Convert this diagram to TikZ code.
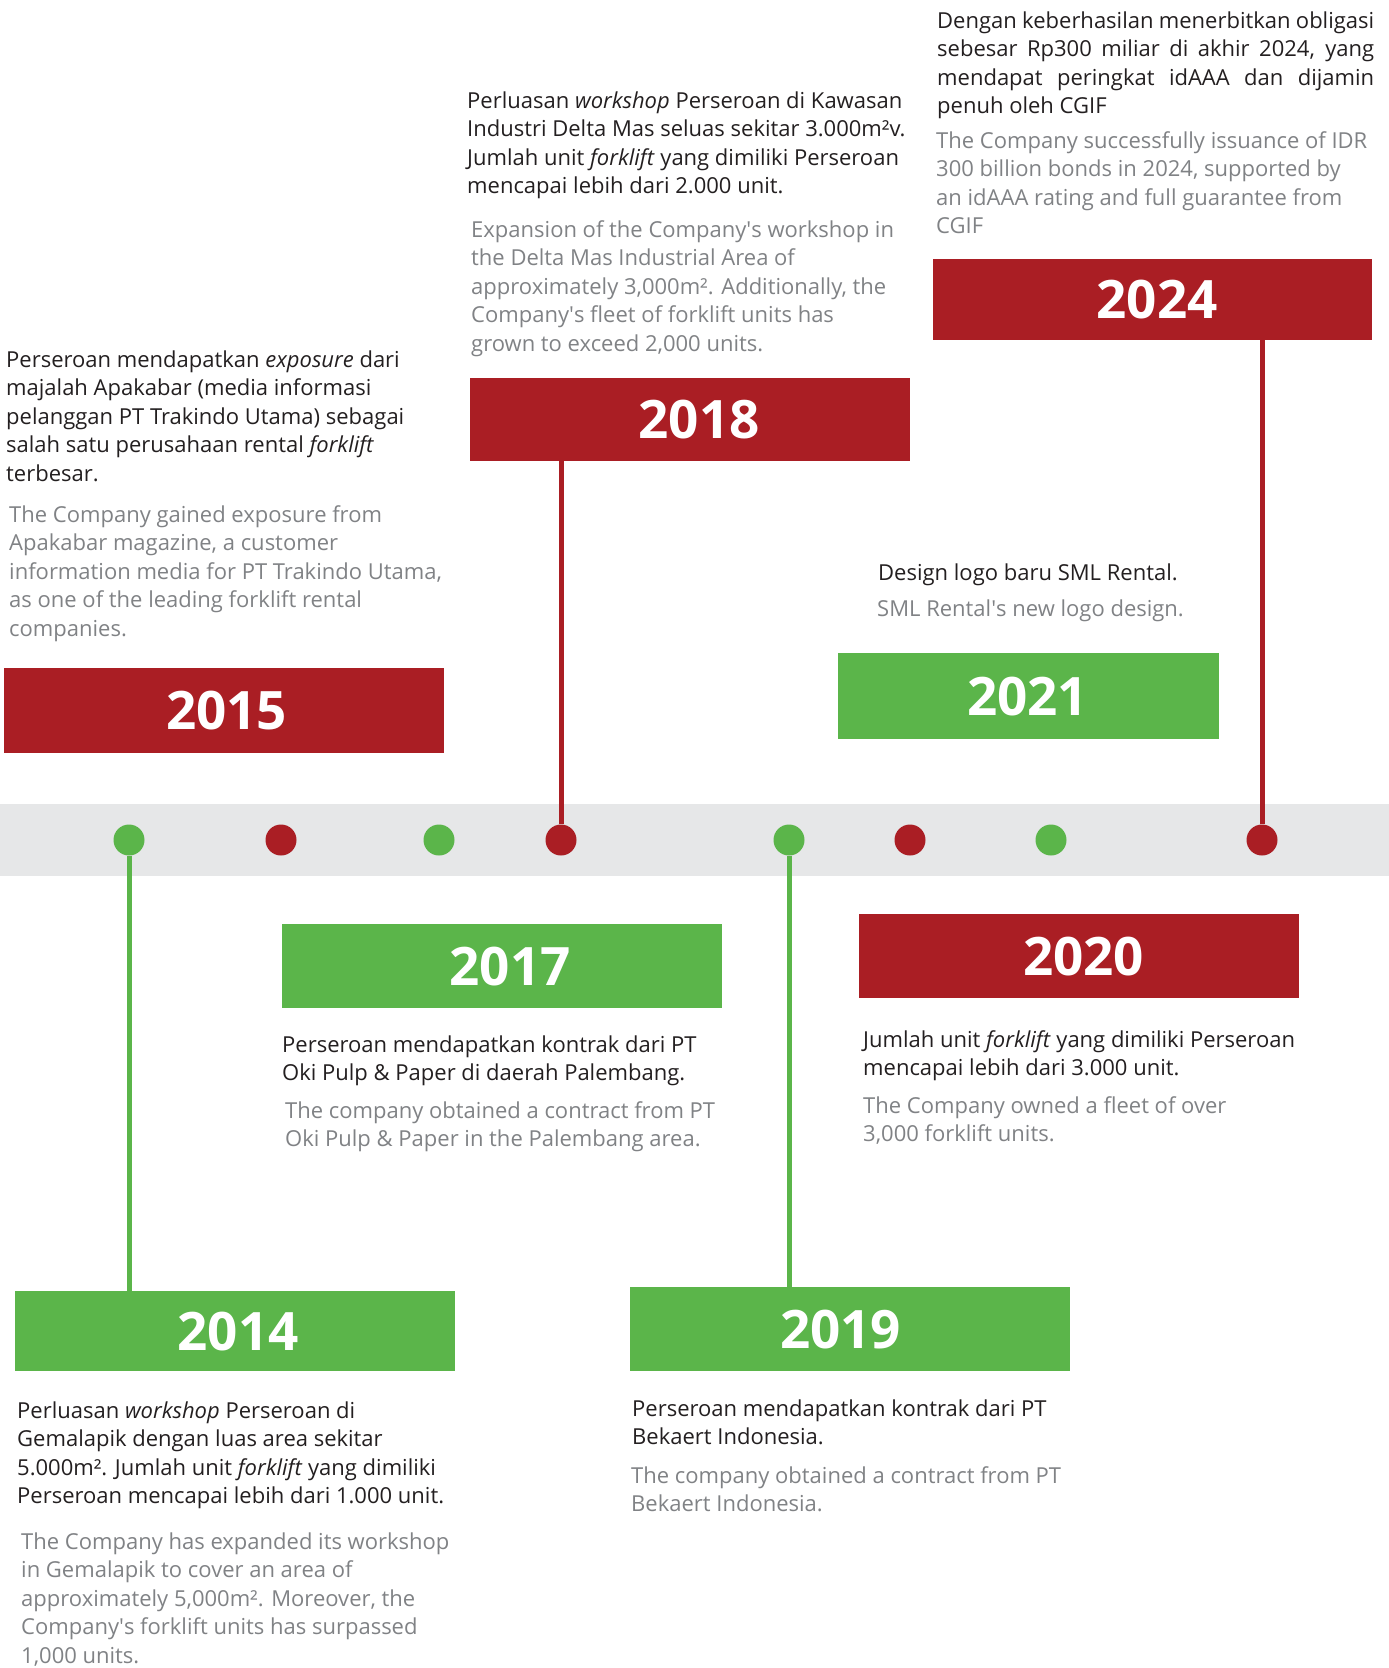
\documentclass[tikz,border=0pt]{standalone}
\usepackage{fontspec}
\setmainfont{Open Sans}
\definecolor{smlred}{RGB}{170,30,36}
\definecolor{smlgreen}{RGB}{91,181,74}
\definecolor{bandgrey}{RGB}{230,231,232}
\definecolor{darktext}{RGB}{35,31,32}
\definecolor{greytext}{RGB}{128,130,133}
\newcommand{\yrtext}[2]{\makebox[0pt][c]{\hspace*{#1}#2}}
\newcommand{\apo}{\textquotesingle}
\begin{document}
\begin{tikzpicture}[x=1pt,y=-1pt,
  yearbox/.style={rectangle, inner sep=0pt, anchor=north west, text=white,
    font=\fontsize{53}{53}\selectfont\bfseries},
  redbox/.style={yearbox, fill=smlred},
  greenbox/.style={yearbox, fill=smlgreen},
  tdot/.style={circle, inner sep=0pt, minimum size=31pt},
  reddot/.style={tdot, fill=smlred},
  greendot/.style={tdot, fill=smlgreen},
  idtext/.style={anchor=base west, inner sep=0pt, text=darktext,
    font=\fontsize{22}{28.5}\selectfont},
  entext/.style={idtext, text=greytext},
  redconn/.style={draw=smlred, line width=5pt},
  greenconn/.style={draw=smlgreen, line width=5pt}]
\useasboundingbox (0,0) rectangle (1389,1668);
\fill[bandgrey] (0,804) rectangle (1389,876);

% dots on the timeline
\node[greendot] (d14) at (129,840) {};
\node[reddot]   (d15) at (281,840) {};
\node[greendot] (d17) at (439,840) {};
\node[reddot]   (d18) at (561,840) {};
\node[greendot] (d19) at (789,840) {};
\node[reddot]   (d20) at (910,840) {};
\node[greendot] (d21) at (1051,840) {};
\node[reddot]   (d24) at (1262,840) {};

% year boxes
\node[redbox,   minimum width=440pt, minimum height=85pt] (b15) at (4,668) {\yrtext{5pt}{2015}};
\node[redbox,   minimum width=440pt, minimum height=83pt] (b18) at (470,378) {\yrtext{18pt}{2018}};
\node[redbox,   minimum width=439pt, minimum height=81pt] (b24) at (933,259) {\yrtext{9pt}{2024}};
\node[greenbox, minimum width=381pt, minimum height=86pt] (b21) at (838,653) {\yrtext{-2pt}{2021}};
\node[greenbox, minimum width=440pt, minimum height=84pt] (b17) at (282,924) {\yrtext{16pt}{2017}};
\node[redbox,   minimum width=440pt, minimum height=84pt] (b20) at (859,914) {\yrtext{9pt}{2020}};
\node[greenbox, minimum width=440pt, minimum height=80pt] (b14) at (15,1291) {\yrtext{6pt}{2014}};
\node[greenbox, minimum width=440pt, minimum height=84pt] (b19) at (630,1287) {\yrtext{-19pt}{2019}};

% connectors
\draw[greenconn] (d14) -- (d14 |- b14.north);
\draw[redconn]   (d18) -- (d18 |- b18.south);
\draw[greenconn] (d19) -- (d19 |- b19.north);
\draw[redconn]   (d24) -- (d24 |- b24.south);

% texts
\node[idtext] (t15id) at (6,367) {\parbox[t]{440pt}{\raggedright
Perseroan mendapatkan \textit{exposure} dari\\
majalah Apakabar (media informasi\\
pelanggan PT Trakindo Utama) sebagai\\
salah satu perusahaan rental \textit{forklift}\\
terbesar.}};
\node[entext] (t15en) at (9,522) {\parbox[t]{440pt}{\raggedright
The Company gained exposure from\\
Apakabar magazine, a customer\\
information media for PT Trakindo Utama,\\
as one of the leading forklift rental\\
companies.}};

\node[idtext] (t18id) at (467,108) {\parbox[t]{440pt}{\raggedright
Perluasan \textit{workshop} Perseroan di Kawasan\\
Industri Delta Mas seluas sekitar 3.000m²v.\\
Jumlah unit \textit{forklift} yang dimiliki Perseroan\\
mencapai lebih dari 2.000 unit.}};
\node[entext] (t18en) at (471,237) {\parbox[t]{440pt}{\raggedright
Expansion of the Company\apo s workshop in\\
the Delta Mas Industrial Area of\\
approximately 3,000m². Additionally, the\\
Company\apo s fleet of forklift units has\\
grown to exceed 2,000 units.}};

\node[idtext] (t24id) at (937,28) {\parbox[t]{440pt}{\raggedright
\makebox[437pt][s]{Dengan keberhasilan menerbitkan obligasi}\\
\makebox[437pt][s]{sebesar Rp300 miliar di akhir 2024, yang}\\
\makebox[437pt][s]{mendapat peringkat idAAA dan dijamin}\\
penuh oleh CGIF}};
\node[entext] (t24en) at (936,148) {\parbox[t]{440pt}{\raggedright
The Company successfully issuance of IDR\\
300 billion bonds in 2024, supported by\\
an idAAA rating and full guarantee from\\
CGIF}};

\node[idtext] (t21id) at (878,580) {Design logo baru SML Rental.};
\node[entext] (t21en) at (877,616) {SML Rental\apo s new logo design.};

\node[idtext] (t17id) at (282,1052) {\parbox[t]{440pt}{\raggedright
Perseroan mendapatkan kontrak dari PT\\
Oki Pulp \& Paper di daerah Palembang.}};
\node[entext] (t17en) at (285,1118) {\parbox[t]{440pt}{\raggedright
The company obtained a contract from PT\\
Oki Pulp \& Paper in the Palembang area.}};

\node[idtext] (t20id) at (863,1047) {\parbox[t]{440pt}{\raggedright
Jumlah unit \textit{forklift} yang dimiliki Perseroan\\
mencapai lebih dari 3.000 unit.}};
\node[entext] (t20en) at (863,1113) {\parbox[t]{440pt}{\raggedright
The Company owned a fleet of over\\
3,000 forklift units.}};

\node[idtext] (t14id) at (17,1418) {\parbox[t]{440pt}{\raggedright
Perluasan \textit{workshop} Perseroan di\\
Gemalapik dengan luas area sekitar\\
5.000m². Jumlah unit \textit{forklift} yang dimiliki\\
Perseroan mencapai lebih dari 1.000 unit.}};
\node[entext] (t14en) at (21,1549) {\parbox[t]{440pt}{\raggedright
The Company has expanded its workshop\\
in Gemalapik to cover an area of\\
approximately 5,000m². Moreover, the\\
Company\apo s forklift units has surpassed\\
1,000 units.}};

\node[idtext] (t19id) at (632,1416) {\parbox[t]{440pt}{\raggedright
Perseroan mendapatkan kontrak dari PT\\
Bekaert Indonesia.}};
\node[entext] (t19en) at (631,1483) {\parbox[t]{440pt}{\raggedright
The company obtained a contract from PT\\
Bekaert Indonesia.}};
\end{tikzpicture}
\end{document}
